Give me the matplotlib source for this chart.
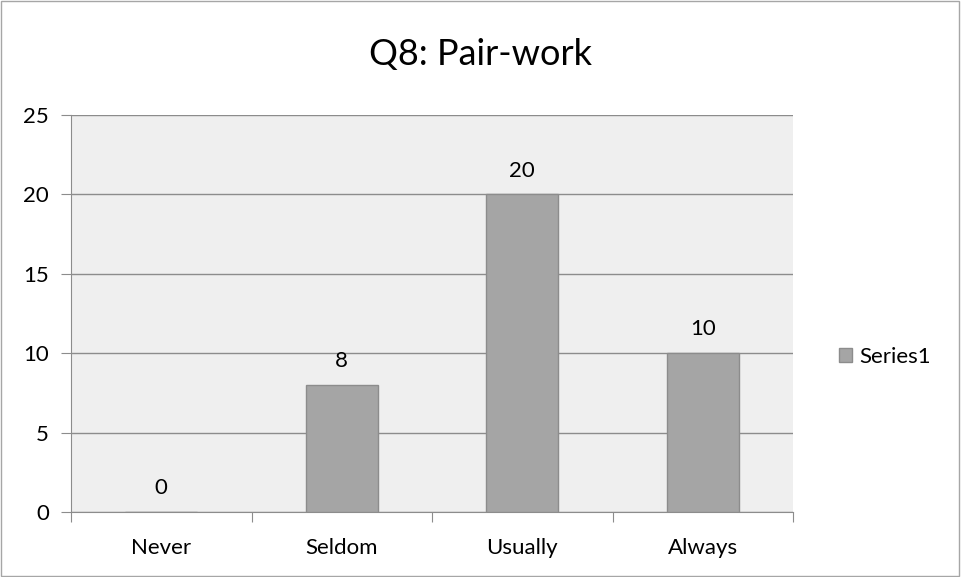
import matplotlib
matplotlib.use("Agg")
import matplotlib.pyplot as plt
from matplotlib.patches import Rectangle

categories = ["Never", "Seldom", "Usually", "Always"]
values = [0, 8, 20, 10]
y_ticks = [0, 5, 10, 15, 20, 25]

plt.rcParams["font.family"] = ["Lato", "DejaVu Sans"]

fig = plt.figure(figsize=(9.61, 5.77), dpi=100)
fig.patch.set_facecolor("white")
fig.patches.append(Rectangle((0.001, 0.001), 0.997, 0.997, transform=fig.transFigure,
                             fill=False, edgecolor="#A6A6A6", linewidth=1.0))

ax = fig.add_axes([71 / 961, 1 - 512 / 577, 722 / 961, 397 / 577])
ax.set_facecolor("#EFEFEF")

x = list(range(len(categories)))
bars = ax.bar(x, values, width=0.4, color="#A5A5A5", edgecolor="#8C8C8C",
              linewidth=1.0, label="Series1", zorder=3)

for xi, v in zip(x, values):
    ax.annotate(str(v), (xi, v), xytext=(0, 10), textcoords="offset points",
                ha="center", va="bottom", fontsize=16)

ax.set_xlim(-0.5, len(categories) - 0.5)
ax.set_ylim(0, 25)
ax.set_yticks(y_ticks)
ax.yaxis.grid(True, color="#8C8C8C", linewidth=1.0, zorder=0)
ax.set_axisbelow(True)

# tick marks at category boundaries, labels at centres
ax.set_xticks([i - 0.5 for i in range(len(categories) + 1)])
ax.set_xticklabels([])
ax.set_xticks(x, minor=True)
ax.set_xticklabels(categories, minor=True, fontsize=16)
ax.tick_params(axis="x", which="minor", length=0, pad=19)
ax.tick_params(axis="x", which="major", length=7, color="#8C8C8C", direction="out")
ax.tick_params(axis="y", length=7, color="#8C8C8C", labelsize=16, pad=9)

for side in ["top", "right"]:
    ax.spines[side].set_visible(False)
for side in ["left", "bottom"]:
    ax.spines[side].set_color("#8C8C8C")

fig.text(0.5, 1 - 55 / 577, "Q8: Pair-work", ha="center", va="center", fontsize=26)

handles, labels = ax.get_legend_handles_labels()
fig.legend(handles, labels, loc="center left", bbox_to_anchor=(819 / 961, 1 - 357 / 577),
           frameon=False, fontsize=16, handlelength=0.6, handleheight=0.6,
           handletextpad=0.3)

fig.savefig("out.png", dpi=100)
